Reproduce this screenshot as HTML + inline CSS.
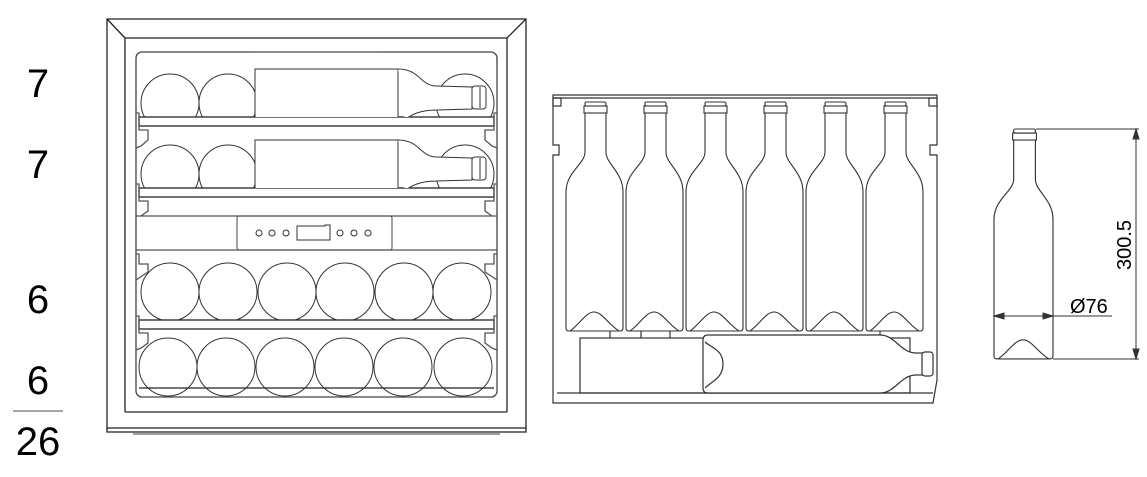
<!DOCTYPE html>
<html><head><meta charset="utf-8"><style>
html,body{margin:0;padding:0;background:#fff;width:1147px;height:477px;overflow:hidden}
svg{display:block}
text{font-family:"Liberation Sans",sans-serif;fill:#000}
</style></head><body>
<svg width="1147" height="477" viewBox="0 0 1147 477" xmlns="http://www.w3.org/2000/svg">
<defs>
<g id="vb" fill="none" stroke="#333" stroke-width="1.1">
<path d="M19,11 L19,50 C19,62 0,70 0,90 L0,226 Q0,229 3,229 L54,229 Q57,229 57,226 L57,90 C57,70 40,62 40,50 L40,11"/>
<rect x="19" y="0" width="21" height="4" rx="1.5"/>
<rect x="18" y="4" width="23" height="7"/>
<path d="M4,229 C14,222 20,210 28,210 C36,210 42,222 53,229"/>
</g>
<clipPath id="c1"><rect x="130" y="40" width="380" height="77"/></clipPath>
<clipPath id="c2"><rect x="130" y="126" width="380" height="62"/></clipPath>
<clipPath id="c3"><rect x="130" y="255" width="380" height="65"/></clipPath>
<clipPath id="c4"><rect x="130" y="329" width="380" height="68"/></clipPath>
</defs>

<text x="38" y="97" font-size="40" text-anchor="middle">7</text>
<text x="38" y="178" font-size="40" text-anchor="middle">7</text>
<text x="38" y="313" font-size="40" text-anchor="middle">6</text>
<text x="38" y="394" font-size="40" text-anchor="middle">6</text>
<line x1="13" y1="411" x2="63" y2="411" stroke="#888" stroke-width="1.5"/>
<text x="38" y="455" font-size="40" text-anchor="middle">26</text>

<g fill="none" stroke="#222" stroke-width="1.3">
<path d="M107,428 L107,19 L526,19 L526,428 Z"/>
<path d="M125,412 L125,38 L507,38 L507,412"/>
<line x1="107" y1="19" x2="125" y2="38"/><line x1="526" y1="19" x2="507" y2="38"/>
<line x1="125" y1="412" x2="507" y2="412"/>
<path d="M107,428 L107,432 L526,432 L526,428"/>
<line x1="133" y1="434" x2="500" y2="434" stroke="#666"/>
<rect x="136" y="52" width="361" height="345" rx="6" stroke="#444"/>
<line x1="250" y1="52" x2="382" y2="52" stroke="#777" stroke-width="1.6"/>
<rect x="139" y="117" width="355" height="9"/>
<rect x="139" y="188" width="355" height="9"/>
<rect x="139" y="320" width="355" height="9"/>
<line x1="139" y1="388" x2="494" y2="388"/>
<line x1="136" y1="216" x2="497" y2="216" stroke="#555"/>
<line x1="136" y1="250" x2="497" y2="250" stroke="#555"/>
<path d="M136,113 L139,113 L139,130 L148,130 L148,140 L141,146 L136,148" stroke="#555"/>
<path d="M136,184 L139,184 L139,201 L148,201 L148,211 L141,216" stroke="#555"/>
<path d="M136,254 L139,254 L139,264 L148,264 L148,272 L139,278 L136,280" stroke="#555"/>
<path d="M136,316 L139,316 L139,333 L148,333 L148,343 L141,348 L136,350" stroke="#555"/>
<path d="M497,113 L494,113 L494,130 L485,130 L485,140 L492,146 L497,148" stroke="#555"/>
<path d="M497,184 L494,184 L494,201 L485,201 L485,211 L492,216" stroke="#555"/>
<path d="M497,254 L494,254 L494,264 L485,264 L485,272 L494,278 L497,280" stroke="#555"/>
<path d="M497,316 L494,316 L494,333 L485,333 L485,343 L492,348 L497,350" stroke="#555"/>
</g>
<g fill="none" stroke="#333" stroke-width="1">
<g clip-path="url(#c1)">
<circle cx="170" cy="103" r="29"/><circle cx="228" cy="103" r="29"/><circle cx="465" cy="103" r="29"/>
<rect x="255" y="69" width="143" height="60" fill="#fff"/>
<path d="M398,69 C420,69 420,86 437,86 L472,87 L472,109 L437,110 C420,110 410,115 405,120" fill="#fff"/>
<rect x="472" y="86" width="14" height="23" rx="3" fill="#fff"/><line x1="480" y1="87" x2="480" y2="108"/>
</g>
<g clip-path="url(#c2)">
<circle cx="170" cy="174" r="29"/><circle cx="228" cy="174" r="29"/><circle cx="465" cy="174" r="29"/>
<rect x="255" y="140" width="143" height="60" fill="#fff"/>
<path d="M398,140 C420,140 420,157 437,157 L472,158 L472,180 L437,181 C420,181 410,186 405,191" fill="#fff"/>
<rect x="472" y="157" width="14" height="23" rx="3" fill="#fff"/><line x1="480" y1="158" x2="480" y2="179"/>
</g>
<g clip-path="url(#c3)">
<circle cx="170" cy="292" r="29"/><circle cx="228" cy="292" r="29"/><circle cx="287" cy="292" r="29"/><circle cx="345" cy="292" r="29"/><circle cx="404" cy="292" r="29"/><circle cx="462" cy="292" r="29"/>
</g>
<g clip-path="url(#c4)">
<circle cx="168" cy="367" r="29"/><circle cx="226" cy="367" r="29"/><circle cx="285" cy="367" r="29"/><circle cx="344" cy="367" r="29"/><circle cx="403" cy="367" r="29"/><circle cx="463" cy="367" r="29"/>
</g>
<rect x="237" y="216" width="155" height="34" rx="2" stroke="#444"/>
<circle cx="259" cy="233" r="3"/><circle cx="272" cy="233" r="3"/><circle cx="286" cy="233" r="3"/>
<path d="M297,226 L325,226 L325,225 L330,225 L330,240 L297,240 Z"/>
<circle cx="340" cy="233" r="3"/><circle cx="354" cy="233" r="3"/><circle cx="368" cy="233" r="3"/>
</g>

<g fill="none" stroke="#333" stroke-width="1.2">
<path d="M553,95 L937,95 L937,145 L930,145 L930,155 L937,155 L937,380 L933,403 L553,403 L553,155 L559,155 L559,145 L553,145 Z"/>
<line x1="553" y1="98" x2="937" y2="98"/>
<line x1="557" y1="393" x2="933" y2="393"/>
<rect x="553" y="98" width="8" height="8"/><rect x="929" y="98" width="8" height="8"/>
<rect x="580" y="338" width="330" height="55"/>
<line x1="610" y1="331" x2="610" y2="338"/><line x1="641" y1="331" x2="641" y2="338"/><line x1="670" y1="331" x2="670" y2="338"/>
<line x1="880" y1="331" x2="880" y2="338"/>
<path d="M708,335 L880,335 C895,335 900,352 915,353 L927,353 L927,375 L915,375 C900,376 895,393 880,393 L708,393 Q703,393 703,388 L703,340 Q703,335 708,335 Z" fill="#fff"/>
<path d="M705,342 C712,348 723,350 723,364 C723,378 712,381 705,388"/>
<rect x="922" y="352" width="11" height="24" rx="3" fill="#fff"/>
</g>
<use href="#vb" x="566" y="102"/>
<use href="#vb" x="626" y="102"/>
<use href="#vb" x="686" y="102"/>
<use href="#vb" x="746" y="102"/>
<use href="#vb" x="806" y="102"/>
<use href="#vb" x="866" y="102"/>

<g transform="translate(994,129) scale(1.035,1.004)"><use href="#vb"/></g>
<g stroke="#333" stroke-width="1" fill="#333">
<line x1="1036" y1="129" x2="1139" y2="129"/>
<line x1="1053" y1="359" x2="1139" y2="359"/>
<line x1="1136" y1="129" x2="1136" y2="359"/>
<path d="M1136,129 L1133,139 L1139,139 Z"/><path d="M1136,359 L1133,349 L1139,349 Z"/>
<line x1="994" y1="316" x2="1112" y2="316"/>
<path d="M994,316 L1004,313 L1004,319 Z"/><path d="M1053,316 L1043,313 L1043,319 Z"/>
</g>
<text x="1070" y="313" font-size="20">Ø76</text>
<text transform="translate(1131,245) rotate(-90)" font-size="20" text-anchor="middle">300.5</text>
</svg>
</body></html>
